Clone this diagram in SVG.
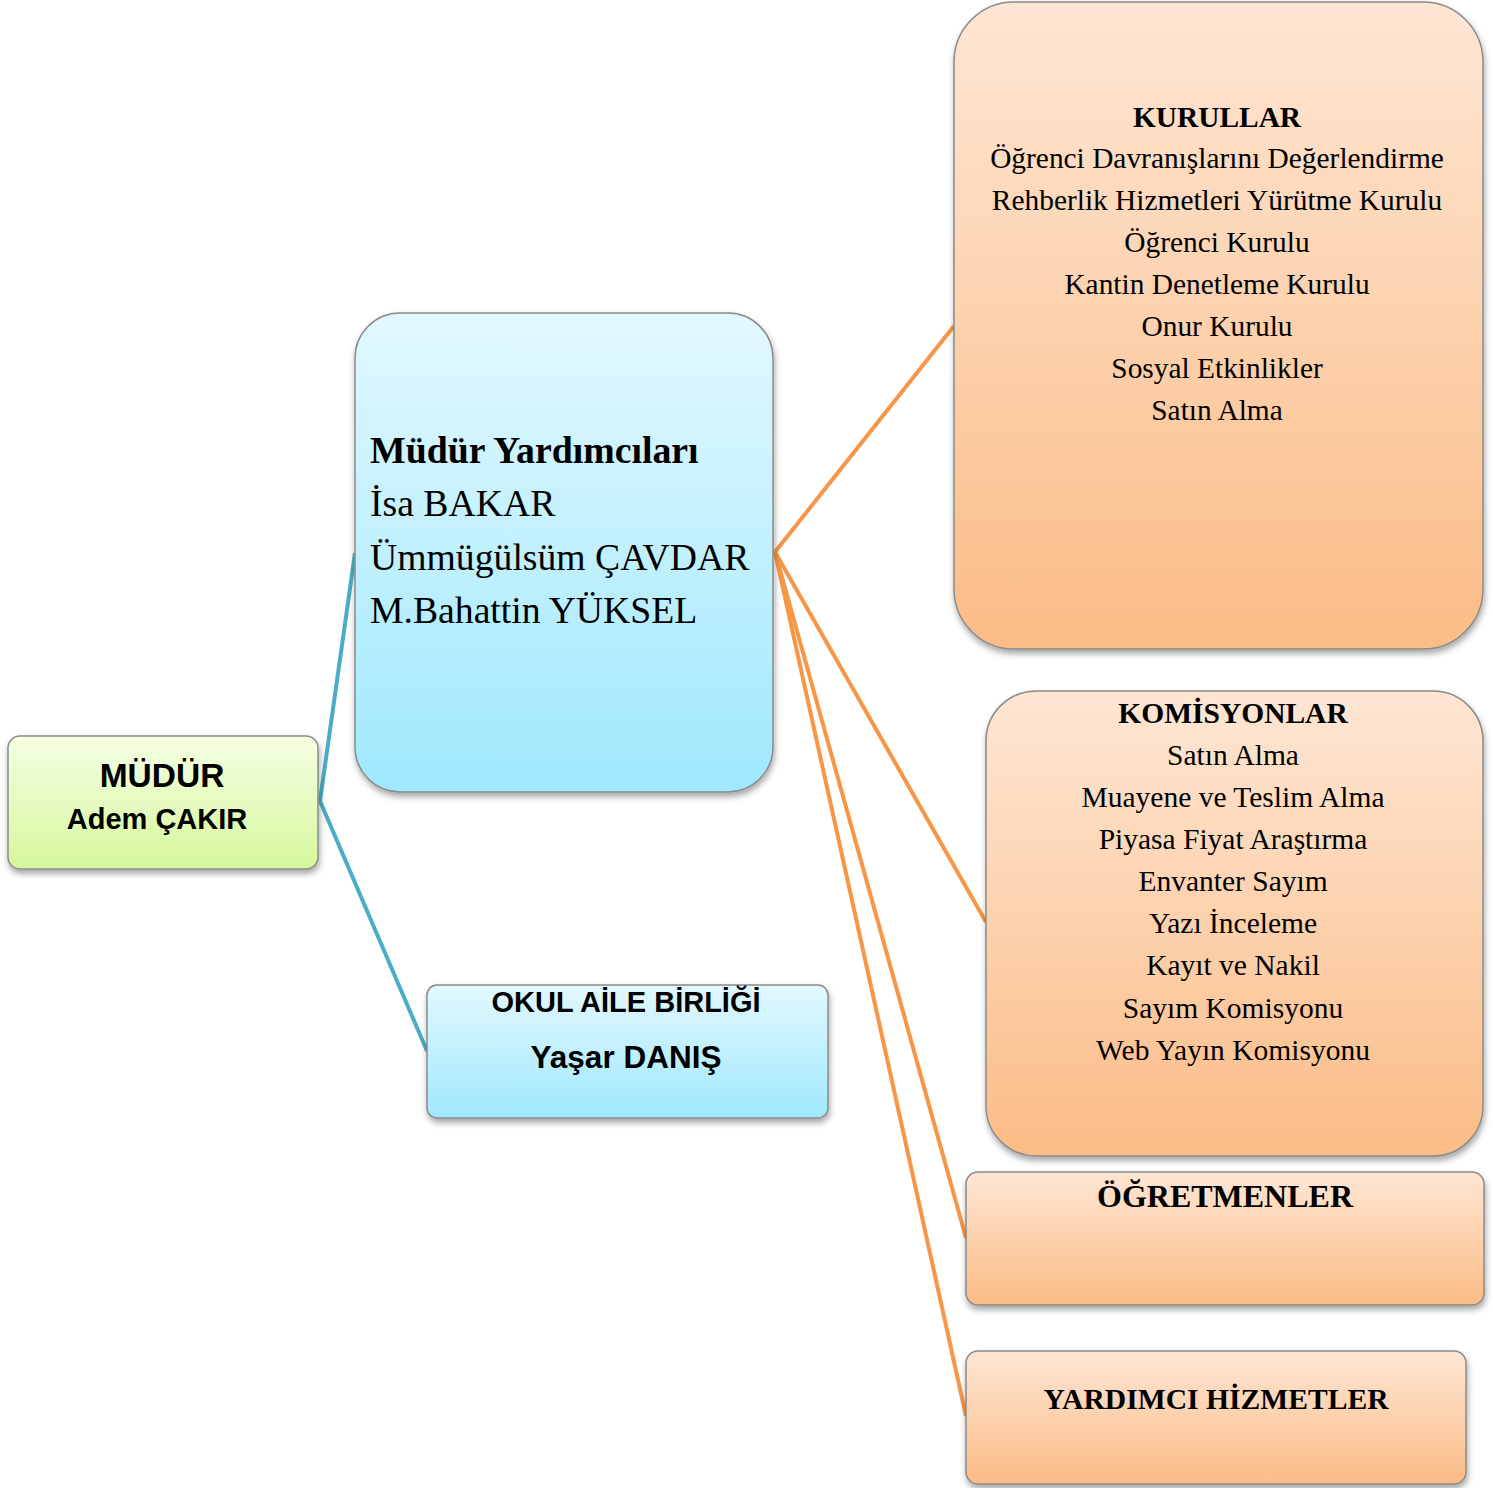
<svg xmlns="http://www.w3.org/2000/svg" width="1493" height="1488" viewBox="0 0 1493 1488">
<defs>
<linearGradient id="gGreen" x1="0" y1="0" x2="0" y2="1"><stop offset="0" stop-color="#f5ffe4"/><stop offset="1" stop-color="#d6f79c"/></linearGradient>
<linearGradient id="gBlue" x1="0" y1="0" x2="0" y2="1"><stop offset="0" stop-color="#e2f8fe"/><stop offset="1" stop-color="#9fe8fd"/></linearGradient>
<linearGradient id="gOrange" x1="0" y1="0" x2="0" y2="1"><stop offset="0" stop-color="#fee6d4"/><stop offset="1" stop-color="#fbbc86"/></linearGradient>
<filter id="sh" x="-10%" y="-10%" width="120%" height="125%"><feDropShadow dx="1" dy="4" stdDeviation="3" flood-color="#000" flood-opacity="0.35"/></filter>
<style>
.box{stroke:#8a8a8a;stroke-width:1.5;filter:url(#sh)}
.sans{font-family:"Liberation Sans",Arial,sans-serif;font-weight:bold;fill:#000}
.serif{font-family:"Liberation Serif","Times New Roman",serif;fill:#000}
.b{font-weight:bold}
.blue{stroke:#4bacc6;stroke-width:4;fill:none}
.orange{stroke:#f79646;stroke-width:4;fill:none}
</style>
</defs>
<g id="connectors">
<line class="blue" x1="320" y1="801" x2="355" y2="553"/>
<line class="blue" x1="320" y1="801" x2="427" y2="1051"/>
<line class="orange" x1="775" y1="552" x2="954" y2="326"/>
<line class="orange" x1="775" y1="552" x2="986" y2="922"/>
<line class="orange" x1="775" y1="552" x2="966" y2="1238"/>
<line class="orange" x1="775" y1="552" x2="966" y2="1416"/>
</g>
<g id="mudur">
<rect class="box" x="8" y="736" width="310" height="133" rx="12" fill="url(#gGreen)"/>
<text class="sans" x="162" y="787" font-size="33.5" text-anchor="middle">MÜDÜR</text>
<text class="sans" x="157" y="829" font-size="29" text-anchor="middle">Adem ÇAKIR</text>
</g>
<g id="mudur-yardimcilari">
<rect class="box" x="355" y="313" width="418" height="479" rx="45" fill="url(#gBlue)"/>
<text class="serif b" x="370" y="463" font-size="37.8">Müdür Yardımcıları</text>
<text class="serif" x="370" y="516" font-size="37.7">İsa BAKAR</text>
<text class="serif" x="370" y="570" font-size="37.7">Ümmügülsüm ÇAVDAR</text>
<text class="serif" x="370" y="623" font-size="37.7">M.Bahattin YÜKSEL</text>
</g>
<g id="okul-aile-birligi">
<rect class="box" x="427" y="985" width="401" height="133" rx="10" fill="url(#gBlue)"/>
<text class="sans" x="626" y="1012" font-size="29" text-anchor="middle">OKUL AİLE BİRLİĞİ</text>
<text class="sans" x="626" y="1068" font-size="31.5" text-anchor="middle">Yaşar DANIŞ</text>
</g>
<g id="kurullar">
<rect class="box" x="954" y="2" width="529" height="647" rx="60" fill="url(#gOrange)"/>
<g class="serif" font-size="29.4" text-anchor="middle">
<text class="b" x="1217" y="127">KURULLAR</text>
<text x="1217" y="168">Öğrenci Davranışlarını Değerlendirme</text>
<text x="1217" y="210">Rehberlik Hizmetleri Yürütme Kurulu</text>
<text x="1217" y="252">Öğrenci Kurulu</text>
<text x="1217" y="294">Kantin Denetleme Kurulu</text>
<text x="1217" y="336">Onur Kurulu</text>
<text x="1217" y="378">Sosyal Etkinlikler</text>
<text x="1217" y="420">Satın Alma</text>
</g>
</g>
<g id="komisyonlar">
<rect class="box" x="986" y="691" width="497" height="465" rx="50" fill="url(#gOrange)"/>
<g class="serif" font-size="29.5" text-anchor="middle">
<text class="b" x="1233" y="723">KOMİSYONLAR</text>
<text x="1233" y="765">Satın Alma</text>
<text x="1233" y="807">Muayene ve Teslim Alma</text>
<text x="1233" y="849">Piyasa Fiyat Araştırma</text>
<text x="1233" y="891">Envanter Sayım</text>
<text x="1233" y="933">Yazı İnceleme</text>
<text x="1233" y="975">Kayıt ve Nakil</text>
<text x="1233" y="1018">Sayım Komisyonu</text>
<text x="1233" y="1060">Web Yayın Komisyonu</text>
</g>
</g>
<g id="ogretmenler">
<rect class="box" x="966" y="1172" width="518" height="133" rx="12" fill="url(#gOrange)"/>
<text class="serif b" x="1225" y="1207" font-size="32" text-anchor="middle">ÖĞRETMENLER</text>
</g>
<g id="yardimci-hizmetler">
<rect class="box" x="966" y="1351" width="500" height="133" rx="12" fill="url(#gOrange)"/>
<text class="serif b" x="1216" y="1409" font-size="29.6" text-anchor="middle">YARDIMCI HİZMETLER</text>
</g>
</svg>
